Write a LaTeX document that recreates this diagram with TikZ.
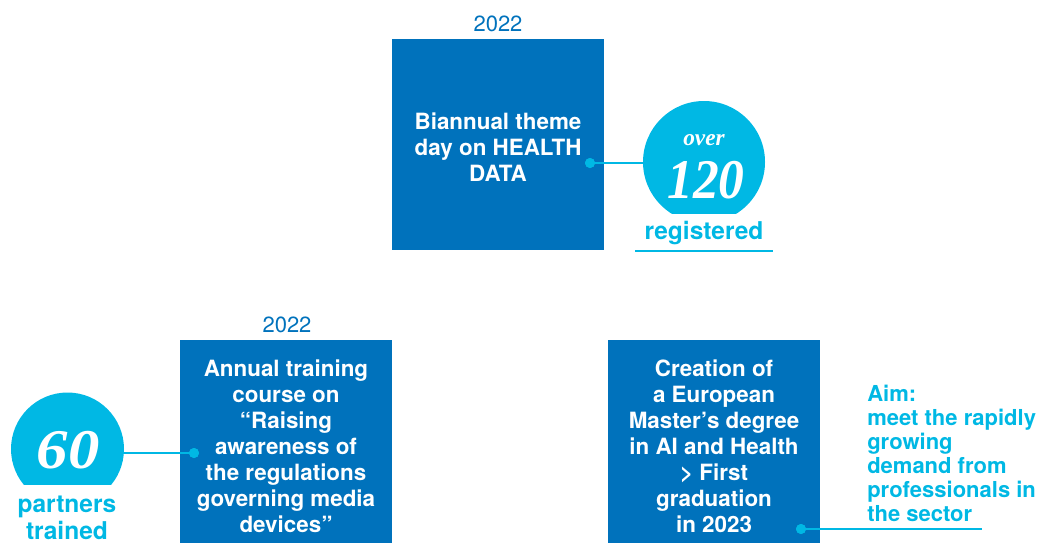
\documentclass[tikz,border=0pt]{standalone}
\usepackage{fontspec}
\usepackage{graphicx}
\newfontfamily\heros{TeX Gyre Heros}
\newfontfamily\numfont{Liberation Serif}
\definecolor{dblue}{RGB}{0,114,188}
\definecolor{lblue}{RGB}{0,184,228}
\begin{document}
\begin{tikzpicture}[x=0.75pt,y=-0.75pt,
  box/.style={fill=dblue, draw=none, minimum width=159pt, minimum height=#1, anchor=north west, inner sep=0pt},
  boxtext/.style={text=white, align=center, font={\heros\bfseries\fontsize{16.8}{19.5}\selectfont}, inner sep=0pt},
  yeartext/.style={text=dblue, font={\heros\fontsize{16.5}{19.5}\selectfont}, inner sep=0pt},
  cyantext/.style={text=lblue, align=center, font={\heros\bfseries\fontsize{18.4}{20.25}\selectfont}, inner sep=0pt},
  aimtext/.style={text=lblue, align=left, font={\heros\bfseries\fontsize{16.5}{18}\selectfont}, inner sep=0pt},
  cdot/.style={circle, fill=lblue, minimum size=7.5pt, inner sep=0pt},
  conn/.style={draw=lblue, line width=2pt},
  bignum/.style={text=white, font={\numfont\bfseries\itshape\fontsize{42}{44}\selectfont}, inner sep=0pt, anchor=base},
  smallnum/.style={text=white, font={\numfont\bfseries\itshape\fontsize{17.5}{18}\selectfont}, inner sep=0pt, anchor=base},
  badge/.style={circle, minimum size=#1, inner sep=0pt}
]
\useasboundingbox (0,0) rectangle (1045,543);

% boxes
\node[box=158.25pt] (b1) at (392,39) {};
\node[box=152.25pt] (b2) at (180,340) {};
\node[box=152.25pt] (b3) at (608,340) {};

% years
\node[yeartext] (y1) at (498,24) {2022};
\node[yeartext] (y2) at (287,325) {2022};

% box texts
\node[boxtext] (t1) at (498,147) {Biannual theme\\day on HEALTH\\DATA};
\node[boxtext] (t2) at (286,446) {Annual training\\course on\\“Raising\\awareness of\\the regulations\\governing media\\devices”};
\node[boxtext] (t3) at (714,446) {Creation of\\a European\\Master’s degree\\in AI and Health\\> First\\graduation\\in 2023};

% badges and dots
\node[badge=91.5pt] (c120) at (704,162) {};
\node[badge=84.75pt] (c60) at (67.5,449) {};
\node[cdot] (d1) at (590,163) {};
\node[cdot] (d2) at (194,453) {};
\node[cdot] (d3) at (801,529) {};
\coordinate (e3) at (982,529);

% connectors (ends hidden under the badges)
\draw[conn] (d1.center) -- (c120.center |- d1.center);
\draw[conn] (d2.center) -- (c60.center |- d2.center);
\draw[conn] (d3.center) -- (e3);

% badge fills with flat bottom
\begin{scope}
  \clip (600,90) rectangle (800,213);
  \fill[lblue] (c120.center) circle (61);
\end{scope}
\begin{scope}
  \clip (0,380) rectangle (140,484);
  \fill[lblue] (c60.center) circle (56.5);
\end{scope}
\node[cdot] at (d1.center) {};
\node[cdot] at (d2.center) {};
\node[cdot] at (d3.center) {};

% numbers
\node[smallnum] (over) at (704,145) {over};
\node[bignum] (n120) at (706,198) {\scalebox{0.92}[1]{120}};
\node[bignum] (n60) at (68,468) {\scalebox{1.12}[1]{60}};

% captions
\node[cyantext] (reg) at (704,233) {registered};
\coordinate (u1) at (635,251);
\coordinate (u2) at (773,251);
\draw[conn] (u1) -- (u2);
\node[cyantext] (part) at (67,518) {partners\\trained};
\node[aimtext, anchor=west] (aim) at (867,453) {Aim:\\meet the rapidly\\growing\\demand from\\professionals in\\the sector};
\end{tikzpicture}
\end{document}
